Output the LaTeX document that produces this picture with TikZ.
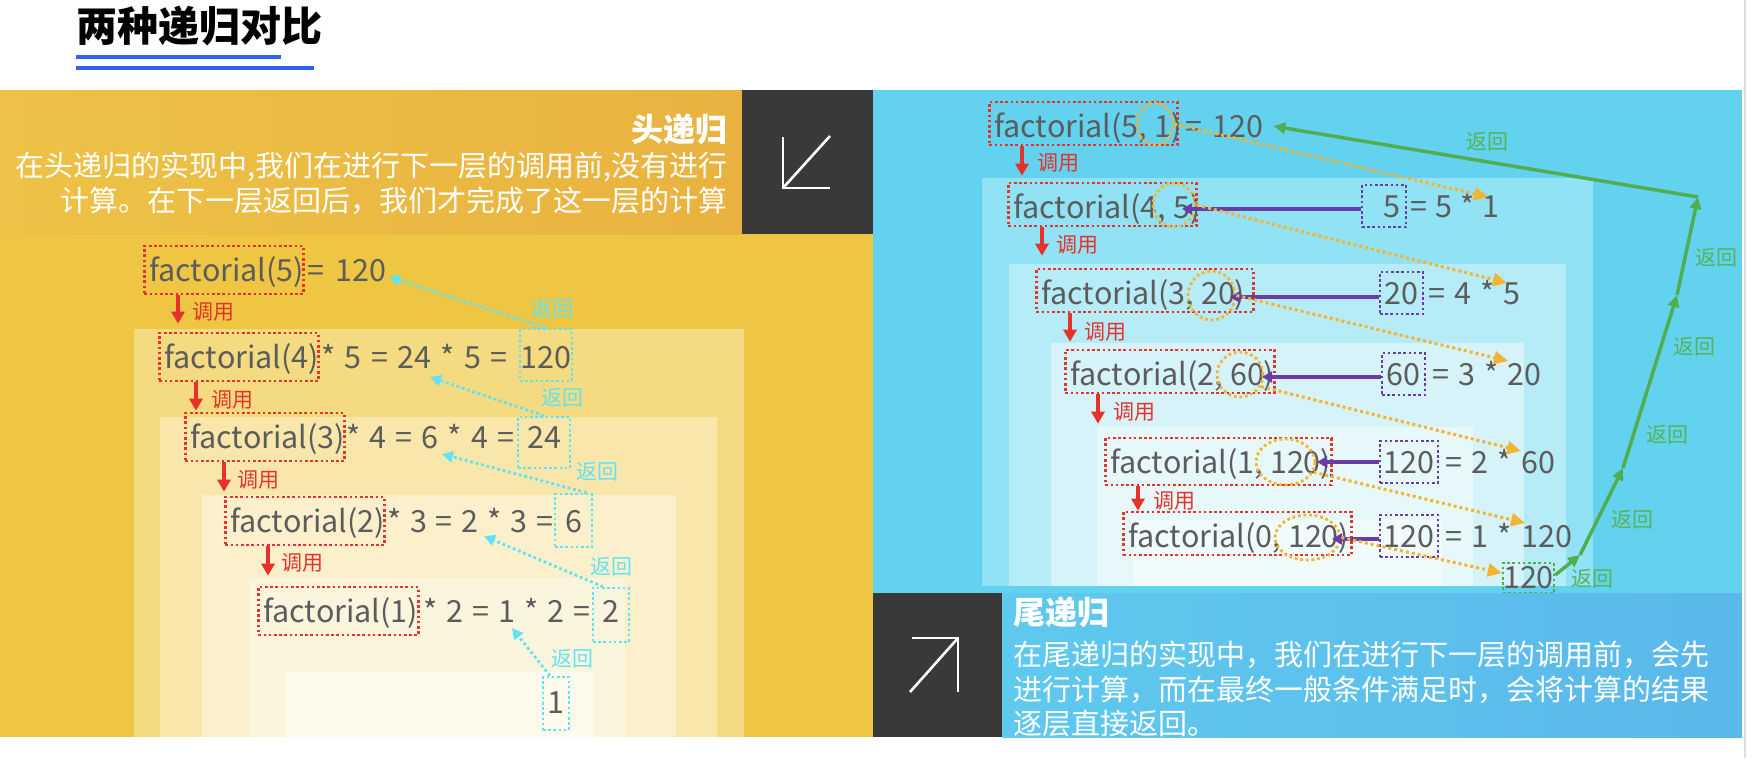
\documentclass[tikz,border=0pt]{standalone}
\usepackage{fontspec}
\setmainfont{Noto Sans CJK SC}
\usetikzlibrary{arrows.meta,shapes.geometric}
\definecolor{yb}{HTML}{EEC644}
\definecolor{yhA}{HTML}{EDC246}
\definecolor{yhB}{HTML}{E9B240}
\definecolor{ylA}{HTML}{F4DA80}
\definecolor{ylB}{HTML}{F8E6AA}
\definecolor{ylC}{HTML}{FBF0CB}
\definecolor{ylD}{HTML}{FCF5DD}
\definecolor{ylE}{HTML}{FEFAEC}
\definecolor{bb}{HTML}{62D2EE}
\definecolor{blA}{HTML}{90E2F4}
\definecolor{blB}{HTML}{B6ECF7}
\definecolor{blC}{HTML}{D5F3F9}
\definecolor{blD}{HTML}{E7F8FB}
\definecolor{blE}{HTML}{F0FBFC}
\definecolor{bbl}{HTML}{5FC9EE}
\definecolor{bbr}{HTML}{5AB8EB}
\definecolor{darkc}{HTML}{393939}
\definecolor{txtc}{HTML}{5C5C5C}
\definecolor{redc}{HTML}{E5322A}
\definecolor{cyanc}{HTML}{62E3F3}
\definecolor{purc}{HTML}{6B3CA6}
\definecolor{orac}{HTML}{F2B533}
\definecolor{grnc}{HTML}{4FAF50}
\definecolor{grnl}{HTML}{55B45C}
\definecolor{bluc}{HTML}{2E63EE}
\newcommand{\myfs}[1]{\fontsize{#1pt}{#1pt}\selectfont}
\tikzset{
  rtx/.style={text=txtc, font=\myfs{30.5}},
  rbox/.style={rtx, draw=redc, line width=2.6pt, dash pattern=on 2.6pt off 2.6pt, inner xsep=5pt, inner ysep=0pt, text height=35pt, text depth=13pt, anchor=base west},
  rboxr/.style={rbox, text depth=8pt},
  mid/.style={rtx, inner sep=0pt, anchor=base west},
  cbox/.style={rtx, draw=cyanc, line width=2.6pt, dash pattern=on 2.6pt off 2.6pt, inner sep=0pt, anchor=base},
  pbox/.style={rtx, draw=purc, line width=2.6pt, dash pattern=on 2.6pt off 2.6pt, inner sep=0pt, anchor=base, text height=32pt, text depth=10pt},
  gbox/.style={rtx, draw=grnc, line width=2.6pt, dash pattern=on 2.6pt off 2.6pt, inner sep=0pt},
  oell/.style={ellipse, draw=orac, line width=2.8pt, dash pattern=on 2.8pt off 2.8pt, inner sep=0pt},
  clab/.style={text=cyanc, font=\myfs{21}, inner sep=0pt},
  glab/.style={text=grnl, font=\myfs{21}, inner sep=0pt},
  rlab/.style={text=redc, font=\myfs{21}, inner sep=0pt, anchor=west},
  redarr/.style={draw=redc, line width=3.5pt, -{Triangle[length=12pt,width=13pt]}},
  carr/.style={draw=cyanc, line width=2.8pt, dash pattern=on 2.8pt off 2.8pt, -{Triangle[length=11pt,width=11pt]}},
  parr/.style={draw=purc, line width=4pt, -{Triangle[length=10pt,width=11pt]}},
  oarr/.style={draw=orac, line width=3pt, dash pattern=on 3pt off 3pt, -{Triangle[length=14pt,width=13pt]}},
  garr/.style={draw=grnc, line width=3.5pt, -{Triangle[length=12pt,width=11pt]}},
  wtx/.style={text=white, inner sep=0pt, font=\myfs{29}},
  icon/.style={draw=white, line width=2.6pt},
}
\begin{document}
\begin{tikzpicture}[x=1pt,y=-1pt]
\useasboundingbox (0,0) rectangle (1752,758);
\fill[white] (0,0) rectangle (1752,758);
% title
\node[anchor=west, inner sep=0pt, font=\myfs{41}\bfseries, text=black] (title) at (76,26) {两种递归对比};
\draw[bluc, line width=4pt] (76,57) -- (281,57);
\draw[bluc, line width=4pt] (76,68) -- (314,68);
% yellow panel
\fill[yb] (0,90) rectangle (873,737);
\shade[left color=yhA, right color=yhB] (0,90) rectangle (742,234);
\fill[darkc] (742,90) rectangle (873,234);
\draw[icon] (830,136) -- (783,188);
\draw[icon] (783,137) -- (783,188) -- (830,188);
\fill[ylA] (134,329) rectangle (744,737);
\fill[ylB] (160,417) rectangle (717,737);
\fill[ylC] (202,495) rectangle (676,737);
\fill[ylD] (249,578) rectangle (625,737);
\fill[ylE] (285,672) rectangle (593,737);
% blue panel
\fill[bb] (873,90) rectangle (1742,737);
\fill[blA] (982,178) rectangle (1593,586);
\fill[blB] (1009,264) rectangle (1566,586);
\fill[blC] (1051,343) rectangle (1524,586);
\fill[blD] (1097,427) rectangle (1473,586);
\fill[blE] (1133,520) rectangle (1442,586);
\draw[gray!25, line width=2pt] (1745,0) -- (1745,758);
% left header text
\node[wtx, anchor=east, font=\myfs{32}\bfseries] (h1) at (728,129) {头递归};
\node[wtx, anchor=east] (d1a) at (728,167) {在头递归的实现中,我们在进行下一层的调用前,没有进行};
\node[wtx, anchor=east] (d1b) at (728,201) {计算。在下一层返回后，我们才完成了这一层的计算};
% left rows
\node[rbox] (R1) at (143,281) {\makebox[149pt][l]{factorial(5)}};
\node[mid] (M1) at (307,281) {\makebox[79pt][s]{= 120}};
\node[rbox] (R2) at (158,368) {\makebox[149pt][l]{factorial(4)}};
\node[mid] (M2) at (321,368) {\makebox[186pt][s]{* 5 = 24 * 5 =}};
\node[rbox] (R3) at (184,448) {\makebox[149pt][l]{factorial(3)}};
\node[mid] (M3) at (346,448) {\makebox[168pt][s]{* 4 = 6 * 4 =}};
\node[rbox] (R4) at (224,532) {\makebox[149pt][l]{factorial(2)}};
\node[mid] (M4) at (387,532) {\makebox[166pt][s]{* 3 = 2 * 3 =}};
\node[rbox] (R5) at (257,622) {\makebox[150pt][l]{factorial(1)}};
\node[mid] (M5) at (423,622) {\makebox[167pt][s]{* 2 = 1 * 2 =}};
\node[cbox, minimum width=52pt, text height=39pt, text depth=13pt] (C2) at (546,368) {120};
\node[cbox, minimum width=52pt, text height=31pt, text depth=20pt] (C3) at (544,448) {24};
\node[cbox, minimum width=37pt, text height=38pt, text depth=15pt] (C4) at (573.5,532) {6};
\node[cbox, minimum width=36pt, text height=34pt, text depth=20pt] (C5) at (611,622) {2};
\node[cbox, minimum width=26pt, text height=36pt, text depth=17pt] (C6) at (556,713) {1};
\node[clab] (L1) at (552,309) {返回};
\node[clab] (L2) at (562,398) {返回};
\node[clab] (L3) at (597,472) {返回};
\node[clab] (L4) at (611,567) {返回};
\node[clab] (L5) at (572,659) {返回};
\coordinate (t1) at (389,277);
\coordinate (t2) at (430,377);
\coordinate (t3) at (442,454);
\coordinate (t4) at (484,536);
\coordinate (t5) at (512,628);
\draw[carr] (C2.north) -- (t1);
\draw[carr] (C3.north) -- (t2);
\draw[carr] ([xshift=13pt]C4.north) -- (t3);
\draw[carr] ([xshift=-8pt]C5.north) -- (t4);
\draw[carr] ([xshift=-6pt]C6.north) -- (t5);
\draw[redarr, shorten >=8pt] ([xshift=35pt]R1.south west) -- ([xshift=35pt]R1.south west |- R2.north);
\draw[redarr, shorten >=1pt] ([xshift=38pt]R2.south west) -- ([xshift=38pt]R2.south west |- R3.north);
\draw[redarr, shorten >=4pt] ([xshift=40pt]R3.south west) -- ([xshift=40pt]R3.south west |- R4.north);
\draw[redarr, shorten >=10pt] ([xshift=44pt]R4.south west) -- ([xshift=44pt]R4.south west |- R5.north);
\node[rlab] (U1) at (192,312) {调用};
\node[rlab] (U2) at (211,400) {调用};
\node[rlab] (U3) at (237,480) {调用};
\node[rlab] (U4) at (281,563) {调用};
% right rows
\node[rboxr] (S1) at (988,137) {\makebox[178pt][l]{factorial(5, 1)}};
\node[mid] (T1) at (1185,137) {\makebox[78pt][s]{= 120}};
\node[rboxr] (S2) at (1007,218) {\makebox[178pt][l]{factorial(4, 5)}};
\node[rboxr] (S3) at (1035,304) {\makebox[207pt][l]{factorial(3, 20)}};
\node[rboxr] (S4) at (1064,385) {\makebox[199pt][l]{factorial(2, 60)}};
\node[rboxr, text depth=12pt] (S5) at (1104,473) {\makebox[216pt][l]{factorial(1, 120)}};
\node[rboxr] (S6) at (1122,547) {\makebox[218pt][l]{factorial(0, 120)}};
\node[oell, minimum width=36pt, minimum height=42pt] (E1) at (1155,124) {};
\node[oell, minimum width=42pt, minimum height=44pt] (E2) at (1174,205) {};
\node[oell, minimum width=47pt, minimum height=49pt] (E3) at (1211.5,295.5) {};
\node[oell, minimum width=46pt, minimum height=45pt] (E4) at (1240,374.5) {};
\node[oell, minimum width=59pt, minimum height=46pt] (E5) at (1285.5,462) {};
\node[oell, minimum width=65pt, minimum height=45pt] (E6) at (1307.5,537.5) {};
\node[pbox, minimum width=44pt] (P2) at (1384,217) {\makebox[32pt][r]{5}};
\node[pbox, minimum width=43pt] (P3) at (1401.5,304) {20};
\node[pbox, minimum width=43pt] (P4) at (1403.5,385) {60};
\node[pbox, minimum width=58pt] (P5) at (1409,473) {120};
\node[pbox, minimum width=58pt] (P6) at (1409,547) {120};
\node[mid] (T2) at (1410,217) {\makebox[89pt][s]{= 5 * 1}};
\node[mid] (T3) at (1428,304) {\makebox[92pt][s]{= 4 * 5}};
\node[mid] (T4) at (1432,385) {\makebox[109pt][s]{= 3 * 20}};
\node[mid] (T5) at (1445,473) {\makebox[110pt][s]{= 2 * 60}};
\node[mid] (T6) at (1445,547) {\makebox[127pt][s]{= 1 * 120}};
\coordinate (pt2) at (1182,209);
\coordinate (pt3) at (1230,297);
\coordinate (pt4) at (1262,377);
\coordinate (pt5) at (1317,462);
\coordinate (pt6) at (1332,539);
\draw[parr] (P2.west |- pt2) -- (pt2);
\draw[parr] (P3.west |- pt3) -- (pt3);
\draw[parr] (P4.west |- pt4) -- (pt4);
\draw[parr] (P5.west |- pt5) -- (pt5);
\draw[parr] (P6.west |- pt6) -- (pt6);
\node[gbox, minimum width=49pt, minimum height=30pt] (G) at (1528.5,578) {120};
\coordinate (ot1) at (1488,197);
\coordinate (ot2) at (1507,283);
\coordinate (ot3) at (1508,361);
\coordinate (ot4) at (1521,451);
\coordinate (ot5) at (1525,523);
\draw[oarr] (E1.east) -- (ot1);
\draw[oarr] (E2.east) -- (ot2);
\draw[oarr] (E3.east) -- (ot3);
\draw[oarr] (E4.-30) -- (ot4);
\draw[oarr] (E5.-20) -- (ot5);
\draw[oarr] (E6.east) -- ([yshift=5pt]G.west);
\coordinate (g1) at (1580,555);
\coordinate (g2) at (1623,468);
\coordinate (g3) at (1677,295);
\coordinate (g4) at (1698,197);
\draw[garr] ([yshift=3pt]G.east) -- (g1);
\draw[garr] (g1) -- (g2);
\draw[garr] (g2) -- (g3);
\draw[garr] (g3) -- (g4);
\draw[garr] (g4) -- ([xshift=10pt]T1.east);
\node[glab] (K1) at (1487,142) {返回};
\node[glab] (K2) at (1716,258) {返回};
\node[glab] (K3) at (1694,347) {返回};
\node[glab] (K4) at (1667,435) {返回};
\node[glab] (K5) at (1632,520) {返回};
\node[glab] (K6) at (1592,579) {返回};
\draw[redarr, shorten >=6pt] ([xshift=34pt]S1.south west) -- ([xshift=34pt]S1.south west |- S2.north);
\draw[redarr, shorten >=12pt] ([xshift=35pt]S2.south west) -- ([xshift=35pt]S2.south west |- S3.north);
\draw[redarr, shorten >=7pt] ([xshift=35pt]S3.south west) -- ([xshift=35pt]S3.south west |- S4.north);
\draw[redarr, shorten >=13pt] ([xshift=34pt]S4.south west) -- ([xshift=34pt]S4.south west |- S5.north);
\draw[redarr] ([xshift=34pt]S5.south west) -- ([xshift=34pt]S5.south west |- S6.north);
\node[rlab] (V1) at (1037,163) {调用};
\node[rlab] (V2) at (1056,245) {调用};
\node[rlab] (V3) at (1084,332) {调用};
\node[rlab] (V4) at (1113,412) {调用};
\node[rlab] (V5) at (1153,501) {调用};
% bottom band
\shade[left color=bbl, right color=bbr] (1002,593) rectangle (1742,737);
\fill[darkc] (873,593) rectangle (1002,737);
\draw[icon] (910,692) -- (958,638);
\draw[icon] (912,638) -- (958,638) -- (958,692);
\node[wtx, anchor=west, font=\myfs{32}\bfseries] (h2) at (1013,612) {尾递归};
\node[wtx, anchor=west] (d2a) at (1013,655) {在尾递归的实现中，我们在进行下一层的调用前，会先};
\node[wtx, anchor=west] (d2b) at (1013,690) {进行计算，而在最终一般条件满足时，会将计算的结果};
\node[wtx, anchor=west] (d2c) at (1013,724) {逐层直接返回。};
\end{tikzpicture}
\end{document}
